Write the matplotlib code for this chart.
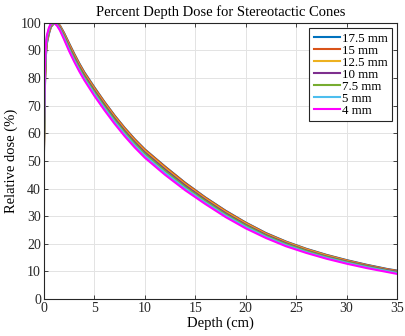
import matplotlib
matplotlib.use("Agg")
import matplotlib.pyplot as plt

plt.rcParams['font.family'] = ['Liberation Serif', 'DejaVu Serif']

depth = [0, 0.1, 0.2, 0.3, 0.5, 0.7, 1.0, 1.3, 1.6, 2.0, 2.5, 3, 3.5, 4, 5, 6, 7, 8,
         9, 10, 12, 14, 16, 18, 20, 22, 24, 26, 28, 30, 32, 34, 35]

cone_labels = ['17.5 mm', '15 mm', '12.5 mm', '10 mm', '7.5 mm', '5 mm', '4 mm']

pdd_175 = [50, 76, 88, 92.5, 96, 98.5, 99.8, 100, 99.0, 96.4, 92.6, 88.9, 85.4, 82.2, 76.7,
           71.4, 66.5, 62.0, 57.9, 54.2, 48.0, 42.1, 36.8, 32.0, 27.7, 23.9, 20.8, 18.2, 16.0,
           14.1, 12.4, 10.9, 10.3]
pdd_150 = [50.5, 77, 88.5, 93, 96.3, 98.7, 99.9, 100, 98.9, 96.2, 92.4, 88.7, 85.2, 82.0, 76.5,
           71.3, 66.4, 61.9, 57.8, 54.1, 47.9, 42.0, 36.7, 31.9, 27.6, 23.8, 20.7, 18.1, 15.9,
           14.0, 12.3, 10.8, 10.2]
pdd_125 = [51, 78, 89, 93.5, 96.7, 99.0, 100, 99.8, 98.6, 95.8, 91.9, 88.2, 84.7, 81.5, 76.0,
           70.8, 65.9, 61.4, 57.3, 53.6, 47.4, 41.5, 36.3, 31.5, 27.3, 23.5, 20.5, 17.9, 15.7,
           13.8, 12.1, 10.6, 10.0]
pdd_100 = [52, 79, 89.5, 94, 97.0, 99.2, 100, 99.6, 98.3, 95.4, 91.4, 87.7, 84.2, 81.0, 75.5,
           70.3, 65.4, 60.9, 56.8, 53.1, 46.9, 41.1, 35.9, 31.1, 26.9, 23.2, 20.2, 17.6, 15.4,
           13.6, 12.0, 10.5, 9.9]
pdd_075 = [53, 80, 90, 94.5, 97.4, 99.4, 100, 99.4, 97.9, 95.0, 90.9, 87.2, 83.7, 80.5, 75.0,
           69.8, 64.9, 60.4, 56.3, 52.6, 46.4, 40.6, 35.5, 30.7, 26.6, 22.9, 19.9, 17.4, 15.2,
           13.4, 11.8, 10.3, 9.7]
pdd_050 = [56, 82, 91, 95, 97.8, 99.7, 99.9, 99.2, 97.6, 94.5, 90.3, 86.5, 83.0, 79.8, 74.3,
           69.1, 64.2, 59.7, 55.6, 51.9, 45.7, 40.0, 34.9, 30.2, 26.1, 22.5, 19.5, 17.0, 14.9,
           13.1, 11.5, 10.1, 9.4]
pdd_040 = [61, 84, 92, 95.5, 98.2, 99.8, 100, 99.0, 97.2, 94.0, 89.8, 86.0, 82.5, 79.3, 73.6,
           68.4, 63.5, 59.0, 54.9, 51.2, 45.0, 39.4, 34.4, 29.7, 25.6, 22.1, 19.1, 16.7, 14.6,
           12.8, 11.2, 9.8, 9.1]

all_pdd = [pdd_175, pdd_150, pdd_125, pdd_100, pdd_075, pdd_050, pdd_040]
colors = ['#0072BD', '#D95319', '#EDB120', '#7E2F8E', '#77AC30', '#4DBEEE', '#FF00FF']

fig = plt.figure(figsize=(4.06, 3.36), dpi=100)
ax = fig.add_axes([0.108, 0.110, 0.870, 0.822])

for vals, lab, c in zip(all_pdd, cone_labels, colors):
    ax.plot(depth, vals, color=c, lw=1.5, label=lab)

ax.set_xlim(0, 35)
ax.set_ylim(0, 100)
ax.set_xticks(range(0, 36, 5))
ax.set_yticks(range(0, 101, 10))
ax.grid(True, color='#e3e3e3', lw=0.7)
ax.set_axisbelow(True)
dark = '#262626'
for s in ax.spines.values():
    s.set_color(dark)
    s.set_linewidth(0.8)
ax.tick_params(direction='in', top=True, right=True, length=3, width=0.6,
               colors=dark, labelsize=10, pad=2)

ax.set_title('Percent Depth Dose for Stereotactic Cones', fontsize=10.5, pad=5)
ax.set_xlabel('Depth (cm)', fontsize=10.5, labelpad=1)
ax.set_ylabel('Relative dose (%)', fontsize=10.5, labelpad=2)

leg = ax.legend(loc='upper right', fontsize=9.3, fancybox=False, framealpha=1,
                edgecolor=dark, handlelength=2.0, handletextpad=0.15,
                labelspacing=0.0, borderpad=0.35, borderaxespad=0.4)
leg.get_frame().set_linewidth(0.8)

fig.savefig('out.png', dpi=100)
